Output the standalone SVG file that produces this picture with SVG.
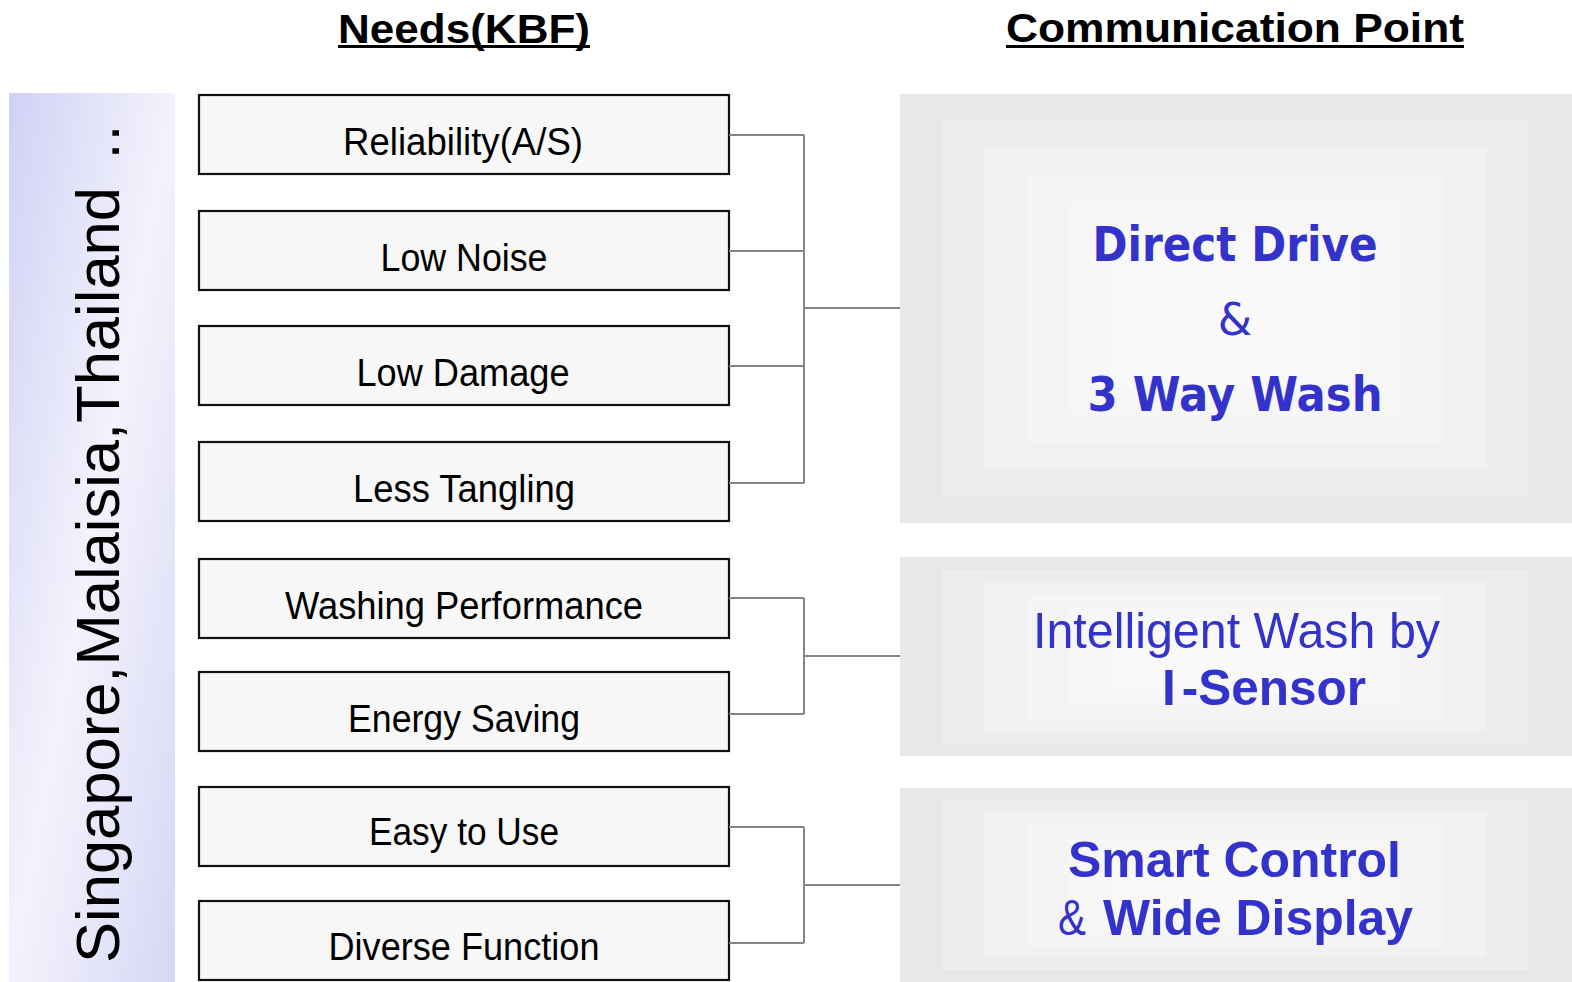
<svg xmlns="http://www.w3.org/2000/svg" width="1572" height="982" viewBox="0 0 1572 982">
<defs>
<linearGradient id="band" x1="0" y1="0" x2="1" y2="1" gradientUnits="objectBoundingBox">
<stop offset="0" stop-color="#d0d0f6"/>
<stop offset="0.5" stop-color="#f3f3fc"/>
<stop offset="1" stop-color="#d6d6f6"/>
</linearGradient>
<style>
.need rect{fill:#f7f7f7;stroke:#111;stroke-width:2.2}
.need text{font-family:"Liberation Sans",Arial,sans-serif;font-size:38px;fill:#000;text-anchor:middle}
.conn{fill:none;stroke:#858585;stroke-width:2}
.base{fill:#e8e8e8}
.step{fill:#fff;fill-opacity:0.21}
.hdr{font-family:"Liberation Sans",Arial,sans-serif;font-size:40px;font-weight:bold;fill:#000}
.cp{font-family:"DejaVu Sans","Liberation Sans",sans-serif;fill:#3333cc}
.cn{font-family:"Liberation Sans",Arial,sans-serif;fill:#3333cc}
</style>
</defs>
<rect width="1572" height="982" fill="#fff"/>

<g id="headers">
<text class="hdr" x="338" y="43" textLength="252" lengthAdjust="spacingAndGlyphs">Needs(KBF)</text>
<rect x="338" y="45" width="252" height="3" fill="#000"/>
<text class="hdr" x="1006" y="42" textLength="458" lengthAdjust="spacingAndGlyphs">Communication Point</text>
<rect x="1006" y="45" width="458" height="3" fill="#000"/>
</g>

<g id="region">
<rect x="9" y="93" width="166" height="889" fill="url(#band)"/>
<text transform="translate(119,963) rotate(-90)" font-family="Liberation Sans,Arial,sans-serif" font-size="62" fill="#000" textLength="776" lengthAdjust="spacingAndGlyphs">Singapore,Malaisia,Thailand</text>
<text transform="translate(119,160) rotate(-90)" font-family="DejaVu Sans,sans-serif" font-size="54" fill="#000">‥</text>
</g>

<g id="need-1" class="need"><rect x="199" y="95" width="530" height="79"/><text x="463" y="155" textLength="240" lengthAdjust="spacingAndGlyphs">Reliability(A/S)</text></g>
<g id="need-2" class="need"><rect x="199" y="211" width="530" height="79"/><text x="464" y="271" textLength="167" lengthAdjust="spacingAndGlyphs">Low Noise</text></g>
<g id="need-3" class="need"><rect x="199" y="326" width="530" height="79"/><text x="463" y="386" textLength="213" lengthAdjust="spacingAndGlyphs">Low Damage</text></g>
<g id="need-4" class="need"><rect x="199" y="442" width="530" height="79"/><text x="464" y="502" textLength="222" lengthAdjust="spacingAndGlyphs">Less Tangling</text></g>
<g id="need-5" class="need"><rect x="199" y="559" width="530" height="79"/><text x="464" y="619" textLength="358" lengthAdjust="spacingAndGlyphs">Washing Performance</text></g>
<g id="need-6" class="need"><rect x="199" y="672" width="530" height="79"/><text x="464" y="732" textLength="232" lengthAdjust="spacingAndGlyphs">Energy Saving</text></g>
<g id="need-7" class="need"><rect x="199" y="787" width="530" height="79"/><text x="464" y="845" textLength="190" lengthAdjust="spacingAndGlyphs">Easy to Use</text></g>
<g id="need-8" class="need"><rect x="199" y="901" width="530" height="79"/><text x="464" y="960" textLength="271" lengthAdjust="spacingAndGlyphs">Diverse Function</text></g>

<g id="connectors" class="conn">
<path d="M729,135H804M729,251H804M729,366H804M729,483H804M804,135V483M804,308H900"/>
<path d="M729,598H804M729,714H804M804,598V714M804,656H900"/>
<path d="M729,827H804M729,943H804M804,827V943M804,885H900"/>
</g>

<g id="point-1">
<rect class="base" x="900" y="94" width="672" height="429"/>
<rect class="step" x="942" y="121" width="586" height="375"/>
<rect class="step" x="984" y="148" width="502" height="321"/>
<rect class="step" x="1026" y="175" width="418" height="267"/>
<rect class="step" x="1068" y="202" width="334" height="213"/>
<rect class="step" x="1110" y="229" width="250" height="159"/>
<rect class="step" x="1152" y="256" width="166" height="105"/>
<rect class="step" x="1194" y="283" width="82" height="51"/>
<text class="cp" x="1235" y="261" font-size="48" font-weight="bold" text-anchor="middle" textLength="285" lengthAdjust="spacingAndGlyphs">Direct Drive</text>
<text class="cp" x="1235" y="335" font-size="44" text-anchor="middle">&amp;</text>
<text class="cp" x="1235" y="411" font-size="48" font-weight="bold" text-anchor="middle" textLength="295" lengthAdjust="spacingAndGlyphs">3 Way Wash</text>
</g>

<g id="point-2">
<rect class="base" x="900" y="557" width="672" height="199"/>
<rect class="step" x="942" y="570" width="586" height="173"/>
<rect class="step" x="984" y="582" width="502" height="149"/>
<rect class="step" x="1026" y="594" width="418" height="125"/>
<rect class="step" x="1068" y="607" width="334" height="99"/>
<rect class="step" x="1110" y="619" width="250" height="75"/>
<rect class="step" x="1152" y="631" width="166" height="51"/>
<rect class="step" x="1194" y="644" width="82" height="25"/>
<text class="cn" x="1033" y="648" font-size="50" textLength="407" lengthAdjust="spacingAndGlyphs">Intelligent Wash by</text>
<text class="cn" x="1162" y="705" font-size="50" font-weight="bold" textLength="204" lengthAdjust="spacingAndGlyphs">I<tspan dx="6">-Sensor</tspan></text>
</g>

<g id="point-3">
<rect class="base" x="900" y="788" width="672" height="194"/>
<rect class="step" x="942" y="800" width="586" height="170"/>
<rect class="step" x="984" y="812" width="502" height="146"/>
<rect class="step" x="1026" y="824" width="418" height="122"/>
<rect class="step" x="1068" y="836" width="334" height="98"/>
<rect class="step" x="1110" y="848" width="250" height="74"/>
<rect class="step" x="1152" y="860" width="166" height="50"/>
<rect class="step" x="1194" y="872" width="82" height="26"/>
<text class="cn" x="1068" y="877" font-size="50" font-weight="bold" textLength="333" lengthAdjust="spacingAndGlyphs">Smart Control</text>
<text class="cn" x="1058" y="935" font-size="50" textLength="28" lengthAdjust="spacingAndGlyphs">&amp;</text>
<text class="cn" x="1103" y="935" font-size="50" font-weight="bold" textLength="310" lengthAdjust="spacingAndGlyphs">Wide Display</text>
</g>
</svg>
